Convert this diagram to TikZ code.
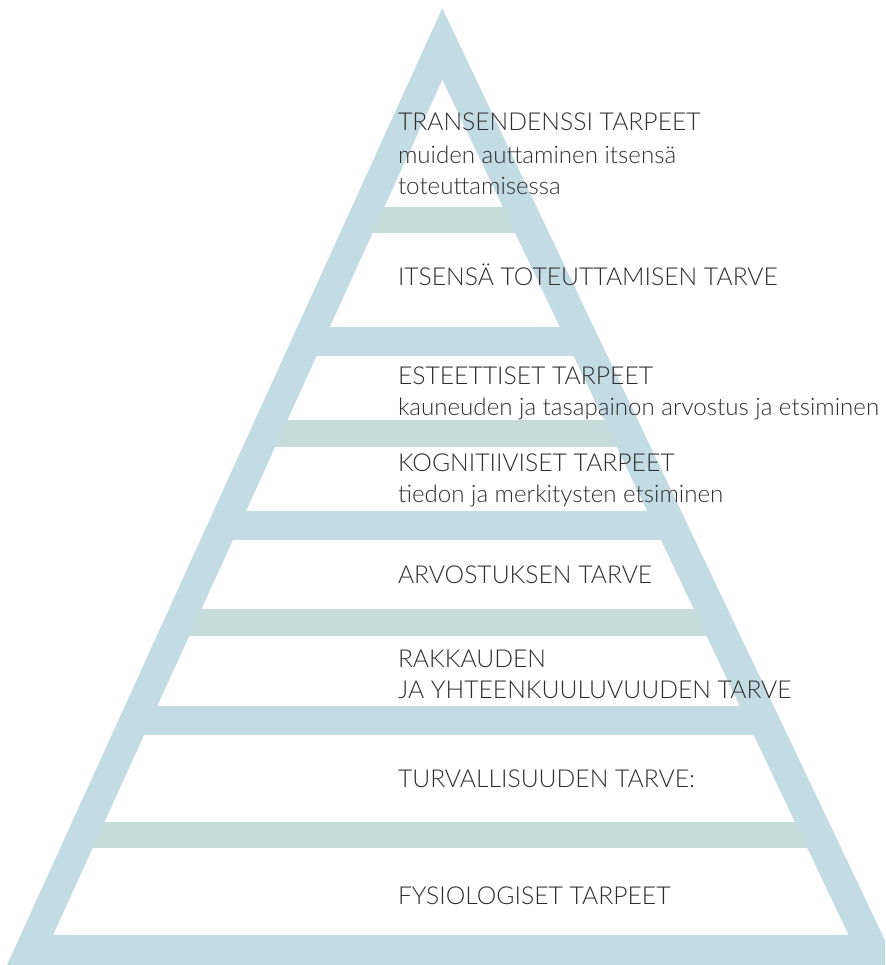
\documentclass[tikz,border=0pt]{standalone}
\usepackage{fontspec}
\setmainfont{Lato}[UprightFont=* Light]
\definecolor{pyrblue}{HTML}{C3DBE2}
\definecolor{pyrgreen}{HTML}{C6DCD9}
\definecolor{txtgray}{HTML}{2E2E2E}
\tikzset{
  lbl/.style={anchor=base west, inner sep=0pt, outer sep=0pt, text=txtgray,
    font=\fontsize{24.7}{28}\selectfont},
  lblsmall/.style={lbl, font=\fontsize{24.1}{28}\selectfont},
  whiteband/.style={fill=white},
  greenband/.style={fill=pyrgreen},
}
\begin{document}
\begin{tikzpicture}[x=1pt,y=-1pt]
\useasboundingbox (0,0) rectangle (885,965);
\begin{scope}
\clip (0,0) rectangle (885,965);
\fill[pyrblue] (442.3,8.3) -- (7,965) -- (896.7,965) -- cycle;
\clip (442.3,80) -- (39.6,965) -- (862.7,965) -- cycle;
\fill[whiteband] (0,80) rectangle (885,207);
\fill[greenband] (0,207) rectangle (885,233);
\fill[whiteband] (0,233) rectangle (885,327);
\fill[whiteband] (0,356) rectangle (885,420);
\fill[greenband] (0,420) rectangle (885,447);
\fill[whiteband] (0,447) rectangle (885,511);
\fill[whiteband] (0,540) rectangle (885,609);
\fill[greenband] (0,609) rectangle (885,636);
\fill[whiteband] (0,636) rectangle (885,706);
\fill[whiteband] (0,735) rectangle (885,822);
\fill[greenband] (0,822) rectangle (885,848);
\fill[whiteband] (0,848) rectangle (885,935);
\end{scope}
\node[lbl] (t1) at (398,131) {TRANSENDENSSI TARPEET};
\node[lblsmall] (t1a) at (398,163.5) {muiden auttaminen itsensä};
\node[lblsmall] (t1b) at (398,195) {toteuttamisessa};
\node[lbl] (t2) at (398,286) {ITSENSÄ TOTEUTTAMISEN TARVE};
\node[lbl] (t3) at (398,384) {ESTEETTISET TARPEET};
\node[lblsmall] (t3a) at (398,415) {kauneuden ja tasapainon arvostus ja etsiminen};
\node[lbl] (t4) at (398,471) {KOGNITIIVISET TARPEET};
\node[lblsmall] (t4a) at (398,502) {tiedon ja merkitysten etsiminen};
\node[lbl] (t5) at (398,583.5) {ARVOSTUKSEN TARVE};
\node[lbl] (t6) at (398,667.5) {RAKKAUDEN};
\node[lbl] (t6a) at (398,698) {JA YHTEENKUULUVUUDEN TARVE};
\node[lbl] (t7) at (398,787) {TURVALLISUUDEN TARVE:};
\node[lbl] (t8) at (398,904) {FYSIOLOGISET TARPEET};
\end{tikzpicture}
\end{document}
